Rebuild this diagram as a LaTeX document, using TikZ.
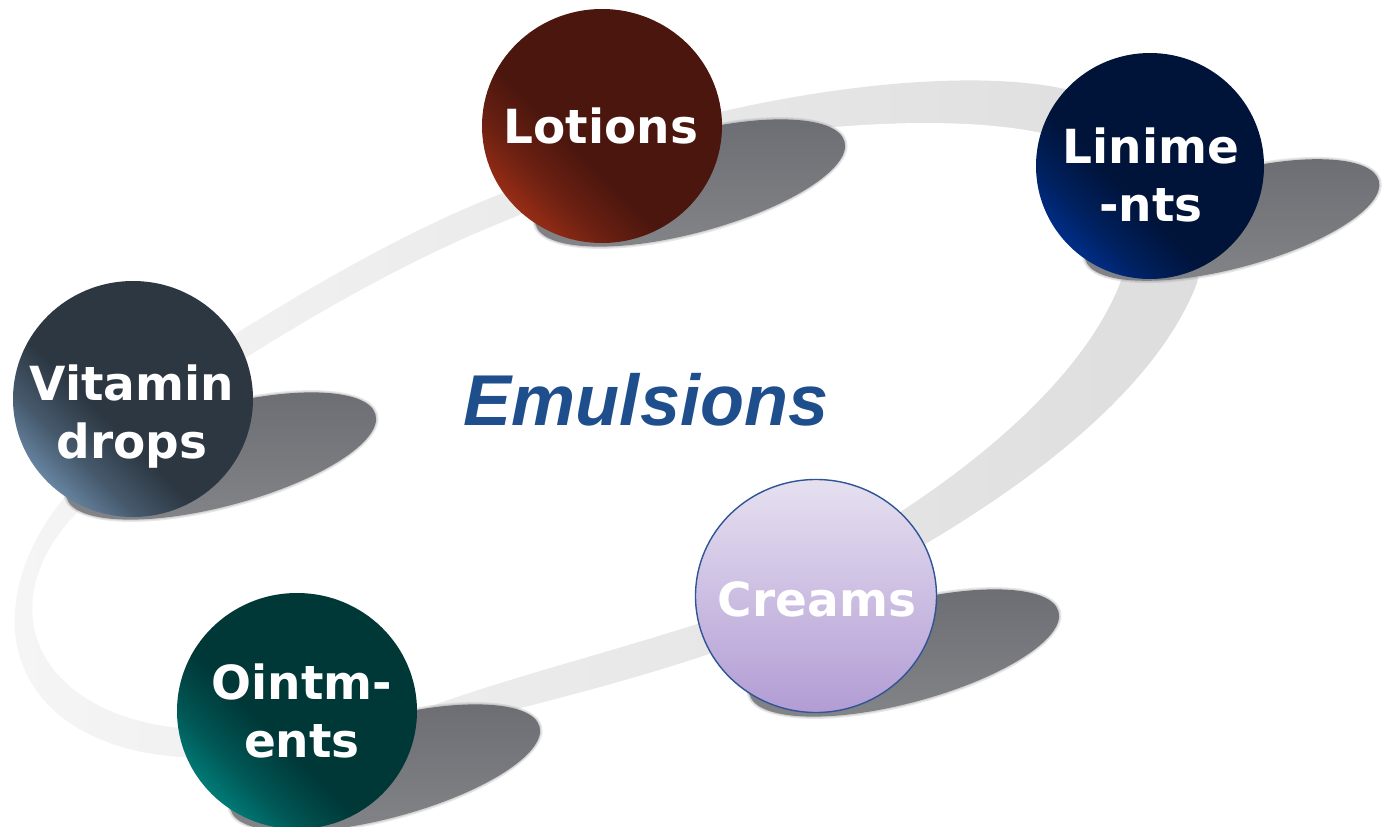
\documentclass[tikz,border=0pt]{standalone}
\usepackage{fontspec}
\usetikzlibrary{shapes.geometric}
\newfontfamily\ballfont{DejaVu Sans}
\newfontfamily\titlefont{Liberation Sans}
\definecolor{lotBase}{RGB}{74,22,14}
\definecolor{lotHL}{RGB}{150,45,22}
\definecolor{linBase}{RGB}{0,19,56}
\definecolor{linHL}{RGB}{0,46,135}
\definecolor{vitBase}{RGB}{44,55,66}
\definecolor{vitHL}{RGB}{102,132,160}
\definecolor{ointBase}{RGB}{0,56,56}
\definecolor{ointHL}{RGB}{0,122,118}
\colorlet{lotMid}{lotHL!45!lotBase}
\colorlet{linMid}{linHL!45!linBase}
\colorlet{vitMid}{vitHL!45!vitBase}
\colorlet{ointMid}{ointHL!45!ointBase}
\definecolor{creamTop}{RGB}{230,224,240}
\definecolor{creamBot}{RGB}{178,156,212}
\definecolor{creamLine}{RGB}{47,85,151}
\definecolor{shadowGray}{RGB}{126,127,131}
\definecolor{shadowDark}{RGB}{108,109,114}
\definecolor{shadowLight}{RGB}{132,133,137}
\definecolor{titleBlue}{RGB}{31,78,140}
\definecolor{bandLight}{RGB}{245,245,245}
\definecolor{bandDark}{RGB}{221,221,221}
\pgfdeclarehorizontalshading{lotshade}{100bp}{color(0bp)=(lotHL); color(25bp)=(lotHL); color(33bp)=(lotMid); color(43bp)=(lotBase); color(100bp)=(lotBase)}
\pgfdeclarehorizontalshading{linshade}{100bp}{color(0bp)=(linHL); color(25bp)=(linHL); color(33bp)=(linMid); color(43bp)=(linBase); color(100bp)=(linBase)}
\pgfdeclarehorizontalshading{vitshade}{100bp}{color(0bp)=(vitHL); color(25bp)=(vitHL); color(33bp)=(vitMid); color(43bp)=(vitBase); color(100bp)=(vitBase)}
\pgfdeclarehorizontalshading{ointshade}{100bp}{color(0bp)=(ointHL); color(25bp)=(ointHL); color(33bp)=(ointMid); color(43bp)=(ointBase); color(100bp)=(ointBase)}
\begin{document}
\begin{tikzpicture}[x=1pt,y=-1pt,
  ball/.style={ellipse, minimum width=240pt, minimum height=234pt, inner sep=0pt, shade, shading angle=45},
  lbl/.style={text=white, font=\ballfont\bfseries\fontsize{47}{58}\selectfont, align=center, inner sep=0pt},
  ttl/.style={font=\titlefont\bfseries\itshape\fontsize{72}{80}\selectfont, inner sep=0pt},
  shadowblur/.style={fill=shadowGray, opacity=0.18},
  shadowcore/.style={top color=shadowDark, bottom color=shadowLight}]
\useasboundingbox (0,0) rectangle (1385,827);
\fill[white] (0,0) rectangle (1385,827);
% ring band
\shade[left color=bandLight, right color=bandDark]
  (237,333) .. controls (330,275) and (420,225) .. (503,193)
  .. controls (580,165) and (650,128) .. (720,112)
  .. controls (850,82) and (980,72) .. (1060,88)
  .. controls (1160,105) and (1215,170) .. (1197,283)
  .. controls (1160,380) and (1050,470) .. (927,543)
  .. controls (860,585) and (780,630) .. (700,657)
  .. controls (600,690) and (500,712) .. (420,735)
  .. controls (340,757) and (250,762) .. (180,757)
  .. controls (80,750) and (20,700) .. (15,630)
  .. controls (12,580) and (35,535) .. (60,503)
  .. controls (110,440) and (180,380) .. (237,333) -- cycle;
\fill[white]
  (247,357) .. controls (330,305) and (420,255) .. (503,222)
  .. controls (580,190) and (650,155) .. (720,142)
  .. controls (830,122) and (970,115) .. (1050,135)
  .. controls (1110,150) and (1140,220) .. (1120,283)
  .. controls (1090,360) and (1010,440) .. (900,512)
  .. controls (830,560) and (770,600) .. (700,623)
  .. controls (600,655) and (500,680) .. (420,710)
  .. controls (340,735) and (250,735) .. (180,728)
  .. controls (100,720) and (40,680) .. (33,620)
  .. controls (28,580) and (50,540) .. (77,513)
  .. controls (130,450) and (190,395) .. (247,357) -- cycle;
% shadows
\foreach \cx/\cy/\a/\b in {690/183/160/50, 1232/220/152/48, 221/456/160/50, 385/768/160/50, 904/653/160/50}{
  \path[shadowblur] (\cx,\cy) circle[x radius=\a pt+2.5pt, y radius=\b pt+2.5pt, rotate=15];
  \path[shadowblur] (\cx,\cy) circle[x radius=\a pt+1.2pt, y radius=\b pt+1.2pt, rotate=15];
  \path[shadowcore] (\cx,\cy) circle[x radius=\a pt, y radius=\b pt, rotate=15];
}
% balls
\node[ball, shading=lotshade, minimum height=234pt] (lot) at (602,126) {};
\node[ball, shading=linshade, minimum width=228pt, minimum height=226pt] (lin) at (1150,166) {};
\node[ball, shading=vitshade, minimum height=236pt] (vit) at (133,399) {};
\node[ball, shading=ointshade, minimum height=236pt] (oint) at (297,711) {};
\node[ellipse, minimum width=241pt, minimum height=233pt, inner sep=0pt, top color=creamTop, bottom color=creamBot, draw=creamLine, line width=1.4pt] (cream) at (816,596) {};
% labels
\node[lbl, anchor=base] (lotT) at (601,143) {Lotions};
\node[lbl] (linT) at (1151,175) {Linime\\-nts};
\node[lbl] (vitT) at (132,417) {Vitamin\\drops};
\node[lbl] (ointT) at (302,711) {Ointm-\\ents};
\node[lbl, anchor=base] (creamT) at (817,616) {Creams};
% title
\node[ttl, anchor=base, text=titleBlue] (emT) at (646,425) {Emulsions};
\end{tikzpicture}
\end{document}
